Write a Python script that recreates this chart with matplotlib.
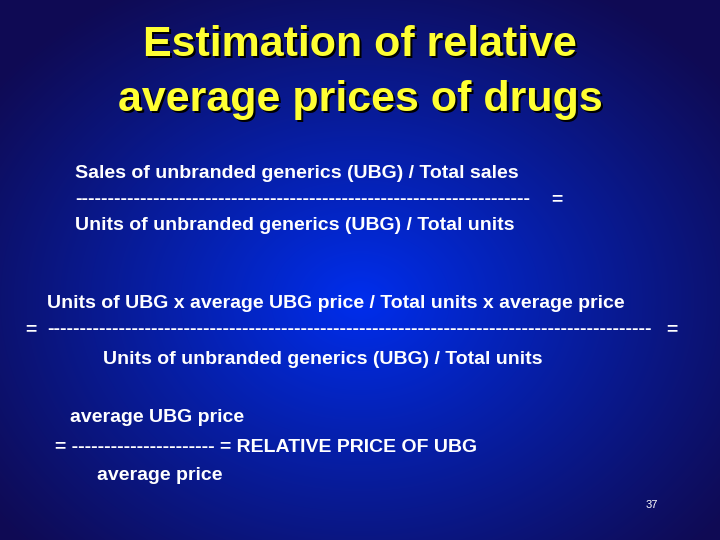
import numpy as np
import matplotlib
matplotlib.use("Agg")
import matplotlib.pyplot as plt

title_lines = ["Estimation of relative", "average prices of drugs"]
body = [
    (75, 173, "Sales of unbranded generics (UBG) / Total sales"),
    (75, 200, "-" * 70),
    (551, 200, "="),
    (75, 226, "Units of unbranded generics (UBG) / Total units"),
    (47, 303, "Units of UBG x average UBG price / Total units x average price"),
    (25, 330, "="),
    (47, 330, "-" * 93),
    (666, 330, "="),
    (103, 360, "Units of unbranded generics (UBG) / Total units"),
    (70, 418, "average UBG price"),
    (55, 447, "= ---------------------- = RELATIVE PRICE OF UBG"),
    (97, 476, "average price"),
]
page_no = "37"

W, H = 720, 540
fig = plt.figure(figsize=(7.2, 5.4), dpi=100)
ax = fig.add_axes([0, 0, 1, 1])
ax.set_xlim(0, W); ax.set_ylim(H, 0); ax.axis("off")

yy, xx = np.mgrid[0:H, 0:W]
d = np.sqrt(((xx - 360) / 460) ** 2 + ((yy - 300) / 360) ** 2)
d = np.clip(d, 0, 1)
img = np.zeros((H, W, 3))
img[..., 0] = 0.06 * d
img[..., 1] = 0.04 + 0.14 * (1 - d)
img[..., 2] = 0.33 + 0.60 * (1 - d) ** 1.1
ax.imshow(np.clip(img, 0, 1), extent=(0, W, H, 0), aspect="auto", zorder=0)

for i, t in enumerate(title_lines):
    y = 45 + i * 55
    ax.text(362, y + 2, t, ha="center", va="center", fontsize=31, fontweight="bold",
            family="Liberation Sans", color="black", zorder=1)
    ax.text(360, y, t, ha="center", va="center", fontsize=31, fontweight="bold",
            family="Liberation Sans", color="#ffff33", zorder=2)

for x, y, t in body:
    ax.text(x, y, t, ha="left", va="center", fontsize=14, fontweight="bold",
            family="Liberation Sans", color="white", zorder=2)

ax.text(652, 505, page_no, ha="center", va="center", fontsize=8,
        family="Liberation Sans", color="white")

fig.savefig("out.png", dpi=100)
